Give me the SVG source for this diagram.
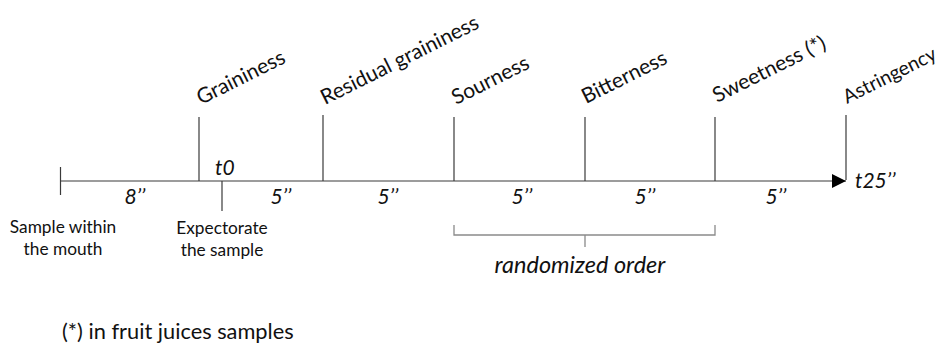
<svg xmlns="http://www.w3.org/2000/svg" width="942" height="345" viewBox="0 0 942 345">
<style>
text{font-family:Lato,"Open Sans","Liberation Sans",sans-serif;fill:#111}
.rot{font-size:21px}
.dur{font-size:21px;font-style:italic;text-anchor:middle}
.low{font-size:17.3px;text-anchor:middle}
.ln{stroke:#3a3a3a;stroke-width:1.2;fill:none}
.br{stroke:#8a8a8a;stroke-width:1.3;fill:none}
</style>
<defs>
<marker id="arr" markerWidth="16" markerHeight="16" refX="14" refY="8" orient="auto" markerUnits="userSpaceOnUse">
<path d="M0,1 L14,8 L0,15 Z" fill="#000"/>
</marker>
</defs>
<g id="connectors">
<line class="ln" x1="61" y1="181" x2="846" y2="181" marker-end="url(#arr)"/>
<line class="ln" x1="60.5" y1="167" x2="60.5" y2="195"/>
<line class="ln" x1="199" y1="117" x2="199" y2="181"/>
<line class="ln" x1="222" y1="181" x2="222" y2="211"/>
<line class="ln" x1="323" y1="115" x2="323" y2="181"/>
<line class="ln" x1="454" y1="117" x2="454" y2="181"/>
<line class="ln" x1="585" y1="117" x2="585" y2="181"/>
<line class="ln" x1="715" y1="117" x2="715" y2="181"/>
<line class="ln" x1="846" y1="115" x2="846" y2="180"/>
<path class="br" d="M454,225 L454,235 L715,235 L715,225 M585,235 L585,247"/>
</g>
<g id="graininess"><text class="rot" transform="translate(201,105) rotate(-26.5)">Graininess</text></g>
<g id="residual"><text class="rot" transform="translate(325,105) rotate(-26.5)">Residual graininess</text></g>
<g id="sourness"><text class="rot" transform="translate(456,105) rotate(-26.5)">Sourness</text></g>
<g id="bitterness"><text class="rot" transform="translate(586,104) rotate(-26.5)">Bitterness</text></g>
<g id="sweetness"><text class="rot" transform="translate(717,103) rotate(-26.5)">Sweetness (*)</text></g>
<g id="astringency"><text class="rot" style="font-size:19.5px" transform="translate(847,104) rotate(-26.5)">Astringency</text></g>
<g id="t0"><text x="215" y="175" style="font-size:21px;font-style:italic">t0</text></g>
<g id="t25"><text x="855" y="188" style="font-size:21px;font-style:italic">t25’’</text></g>
<g id="durations">
<text class="dur" x="135" y="204">8’’</text>
<text class="dur" x="281" y="204">5’’</text>
<text class="dur" x="388" y="204">5’’</text>
<text class="dur" x="522" y="204">5’’</text>
<text class="dur" x="645" y="204">5’’</text>
<text class="dur" x="776" y="204">5’’</text>
</g>
<g id="sample-mouth"><text class="low" x="63" y="233">Sample within</text><text class="low" x="63" y="255">the mouth</text></g>
<g id="expectorate"><text class="low" x="222" y="234">Expectorate</text><text class="low" x="222" y="256">the sample</text></g>
<g id="randomized"><text x="580" y="273" style="font-size:23.5px;font-style:italic;text-anchor:middle">randomized order</text></g>
<g id="footnote"><text x="62" y="339" style="font-size:21.8px">(*) in fruit juices samples</text></g>
</svg>
